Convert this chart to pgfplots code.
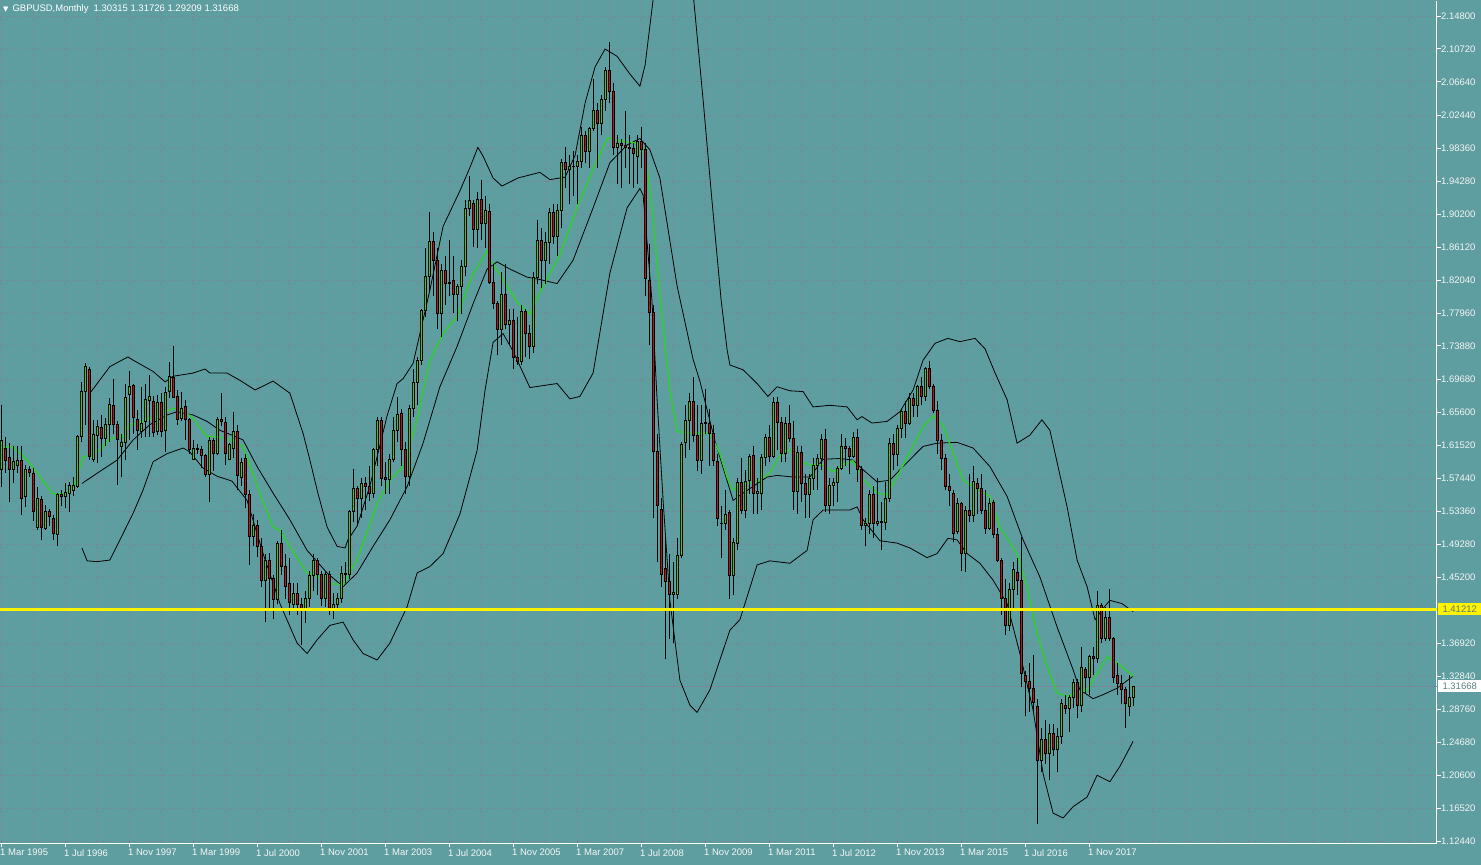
\documentclass[border=0pt]{standalone}
\usepackage{pgfplots}
\usepackage{pgfplotstable}
\pgfplotsset{compat=1.18}
\usepackage{fontspec}
\setmainfont{Liberation Sans}
\newfontfamily\symfont{DejaVu Sans}

\definecolor{bg}{RGB}{95,158,160}
\definecolor{gridc}{RGB}{119,136,153}
\definecolor{bullc}{RGB}{0,235,0}
\definecolor{bearc}{RGB}{235,0,0}
\definecolor{ma}{RGB}{50,205,50}
\definecolor{boxtext}{RGB}{90,125,125}

% monthly candles, i = months since Mar 1995
\pgfplotstableread{
i o h l c
0 1.585 1.665 1.564 1.622
1 1.612 1.626 1.581 1.597
2 1.600 1.618 1.545 1.585
3 1.585 1.614 1.568 1.596
4 1.591 1.614 1.581 1.597
5 1.597 1.614 1.529 1.550
6 1.552 1.591 1.539 1.586
7 1.586 1.590 1.576 1.582
8 1.581 1.587 1.521 1.533
9 1.514 1.564 1.510 1.550
10 1.548 1.552 1.498 1.514
11 1.512 1.541 1.510 1.533
12 1.533 1.536 1.515 1.527
13 1.525 1.529 1.498 1.506
14 1.505 1.556 1.490 1.554
15 1.554 1.560 1.540 1.552
16 1.552 1.568 1.537 1.557
17 1.556 1.570 1.533 1.565
18 1.560 1.576 1.553 1.565
19 1.564 1.628 1.562 1.626
20 1.626 1.694 1.620 1.682
21 1.682 1.717 1.640 1.713
22 1.709 1.713 1.597 1.601
23 1.598 1.647 1.595 1.629
24 1.628 1.647 1.593 1.639
25 1.638 1.653 1.601 1.624
26 1.624 1.649 1.614 1.641
27 1.641 1.674 1.620 1.666
28 1.665 1.698 1.630 1.641
29 1.641 1.645 1.566 1.623
30 1.614 1.630 1.576 1.619
31 1.619 1.692 1.597 1.675
32 1.678 1.707 1.622 1.689
33 1.690 1.692 1.630 1.650
34 1.648 1.659 1.610 1.634
35 1.632 1.688 1.625 1.643
36 1.645 1.692 1.626 1.672
37 1.671 1.703 1.626 1.676
38 1.670 1.676 1.626 1.631
39 1.633 1.678 1.628 1.668
40 1.668 1.680 1.626 1.632
41 1.634 1.688 1.607 1.681
42 1.682 1.719 1.674 1.701
43 1.700 1.738 1.674 1.675
44 1.676 1.684 1.641 1.648
45 1.649 1.682 1.645 1.661
46 1.664 1.672 1.622 1.647
47 1.647 1.649 1.605 1.610
48 1.598 1.622 1.597 1.612
49 1.611 1.617 1.605 1.610
50 1.610 1.614 1.587 1.603
51 1.603 1.605 1.576 1.579
52 1.579 1.626 1.545 1.622
53 1.621 1.624 1.583 1.605
54 1.605 1.651 1.603 1.648
55 1.648 1.680 1.639 1.645
56 1.644 1.651 1.591 1.605
57 1.598 1.618 1.597 1.616
58 1.612 1.657 1.600 1.632
59 1.632 1.640 1.560 1.578
60 1.576 1.600 1.565 1.594
61 1.599 1.605 1.537 1.554
62 1.554 1.560 1.467 1.502
63 1.502 1.530 1.490 1.516
64 1.516 1.523 1.477 1.490
65 1.490 1.500 1.440 1.448
66 1.448 1.480 1.396 1.472
67 1.472 1.482 1.410 1.450
68 1.450 1.455 1.400 1.424
69 1.424 1.497 1.418 1.494
70 1.494 1.510 1.455 1.465
71 1.465 1.480 1.425 1.440
72 1.444 1.475 1.405 1.420
73 1.418 1.445 1.412 1.432
74 1.432 1.445 1.405 1.418
75 1.418 1.426 1.368 1.413
76 1.413 1.435 1.395 1.425
77 1.425 1.460 1.415 1.454
78 1.454 1.480 1.435 1.473
79 1.473 1.475 1.430 1.455
80 1.455 1.460 1.416 1.425
81 1.425 1.460 1.415 1.455
82 1.455 1.460 1.405 1.411
83 1.411 1.432 1.400 1.418
84 1.418 1.432 1.410 1.425
85 1.425 1.465 1.420 1.457
86 1.457 1.470 1.445 1.455
87 1.455 1.535 1.450 1.533
88 1.533 1.586 1.520 1.562
89 1.562 1.565 1.515 1.550
90 1.550 1.575 1.525 1.568
91 1.568 1.576 1.535 1.564
92 1.564 1.590 1.546 1.556
93 1.556 1.612 1.550 1.610
94 1.610 1.650 1.590 1.646
95 1.646 1.650 1.565 1.574
96 1.576 1.595 1.555 1.573
97 1.573 1.605 1.555 1.598
98 1.598 1.650 1.595 1.634
99 1.634 1.675 1.620 1.654
100 1.655 1.660 1.590 1.610
101 1.610 1.620 1.555 1.577
102 1.577 1.665 1.565 1.661
103 1.661 1.710 1.650 1.694
104 1.694 1.725 1.665 1.721
105 1.721 1.785 1.715 1.783
106 1.783 1.860 1.775 1.825
107 1.825 1.905 1.805 1.868
108 1.868 1.880 1.800 1.845
109 1.845 1.860 1.760 1.779
110 1.779 1.840 1.750 1.832
111 1.832 1.850 1.790 1.816
112 1.816 1.870 1.800 1.818
113 1.820 1.850 1.780 1.802
114 1.802 1.815 1.770 1.812
115 1.812 1.845 1.778 1.837
116 1.837 1.920 1.825 1.909
117 1.909 1.950 1.900 1.919
118 1.915 1.920 1.862 1.883
119 1.883 1.930 1.860 1.920
120 1.920 1.945 1.870 1.891
121 1.891 1.925 1.860 1.907
122 1.906 1.915 1.815 1.818
123 1.818 1.840 1.785 1.791
124 1.791 1.795 1.727 1.759
125 1.759 1.830 1.740 1.802
126 1.802 1.840 1.760 1.765
127 1.765 1.785 1.740 1.770
128 1.770 1.785 1.710 1.725
129 1.725 1.775 1.715 1.720
130 1.720 1.790 1.715 1.781
131 1.781 1.785 1.725 1.754
132 1.754 1.765 1.722 1.738
133 1.738 1.830 1.730 1.824
134 1.824 1.895 1.815 1.869
135 1.869 1.885 1.810 1.845
136 1.845 1.880 1.815 1.867
137 1.867 1.910 1.840 1.904
138 1.904 1.915 1.865 1.875
139 1.875 1.915 1.850 1.907
140 1.907 1.970 1.885 1.966
141 1.966 1.985 1.935 1.958
142 1.958 1.975 1.915 1.962
143 1.962 1.980 1.925 1.961
144 1.961 1.975 1.915 1.968
145 1.968 2.010 1.960 2.000
146 2.000 2.005 1.965 1.980
147 1.980 2.010 1.960 2.008
148 2.008 2.070 2.005 2.031
149 2.031 2.040 1.960 2.015
150 2.015 2.050 2.000 2.045
151 2.045 2.085 2.030 2.080
152 2.080 2.116 2.040 2.055
153 2.055 2.065 1.975 1.985
154 1.985 2.000 1.940 1.990
155 1.990 1.995 1.935 1.988
156 1.988 2.030 1.960 1.985
157 1.985 2.000 1.940 1.984
158 1.984 1.990 1.935 1.978
159 1.974 2.000 1.940 1.992
160 1.992 2.010 1.960 1.983
161 1.983 1.990 1.800 1.823
162 1.820 1.865 1.740 1.780
163 1.780 1.790 1.525 1.608
164 1.608 1.630 1.470 1.541
165 1.536 1.550 1.440 1.455
166 1.463 1.505 1.350 1.447
167 1.447 1.480 1.375 1.431
168 1.430 1.470 1.370 1.433
169 1.431 1.500 1.425 1.479
170 1.479 1.620 1.475 1.617
171 1.619 1.665 1.600 1.646
172 1.646 1.680 1.610 1.670
173 1.670 1.700 1.620 1.628
174 1.628 1.665 1.584 1.597
175 1.597 1.665 1.580 1.642
176 1.642 1.685 1.630 1.644
177 1.643 1.660 1.590 1.630
178 1.630 1.640 1.590 1.597
179 1.595 1.605 1.515 1.525
180 1.518 1.540 1.475 1.519
181 1.518 1.560 1.510 1.530
182 1.532 1.535 1.425 1.454
183 1.454 1.500 1.430 1.495
184 1.494 1.575 1.485 1.569
185 1.569 1.600 1.530 1.535
186 1.535 1.585 1.525 1.571
187 1.572 1.605 1.555 1.601
188 1.603 1.615 1.530 1.556
189 1.556 1.575 1.530 1.558
190 1.556 1.605 1.535 1.600
191 1.600 1.630 1.590 1.625
192 1.625 1.640 1.595 1.602
193 1.602 1.675 1.600 1.669
194 1.669 1.675 1.610 1.644
195 1.644 1.650 1.595 1.605
196 1.605 1.650 1.595 1.642
197 1.642 1.665 1.620 1.624
198 1.624 1.645 1.535 1.558
199 1.558 1.615 1.530 1.607
200 1.607 1.615 1.545 1.568
201 1.568 1.580 1.525 1.554
202 1.554 1.580 1.525 1.574
203 1.574 1.600 1.560 1.591
204 1.591 1.605 1.560 1.599
205 1.599 1.630 1.585 1.623
206 1.623 1.635 1.533 1.541
207 1.541 1.575 1.530 1.566
208 1.566 1.575 1.540 1.569
209 1.569 1.590 1.545 1.587
210 1.587 1.630 1.585 1.614
211 1.614 1.625 1.590 1.611
212 1.611 1.615 1.580 1.602
213 1.602 1.632 1.600 1.625
214 1.625 1.635 1.570 1.586
215 1.586 1.590 1.510 1.516
216 1.516 1.525 1.490 1.519
217 1.519 1.560 1.505 1.554
218 1.554 1.565 1.500 1.519
219 1.519 1.575 1.515 1.521
220 1.521 1.545 1.485 1.520
221 1.520 1.570 1.510 1.550
222 1.550 1.625 1.545 1.618
223 1.618 1.630 1.585 1.604
224 1.604 1.640 1.590 1.636
225 1.636 1.660 1.625 1.658
226 1.658 1.670 1.625 1.643
227 1.643 1.680 1.640 1.674
228 1.674 1.680 1.650 1.665
229 1.665 1.690 1.650 1.688
230 1.688 1.700 1.665 1.676
231 1.676 1.712 1.670 1.711
232 1.711 1.720 1.685 1.688
233 1.688 1.692 1.655 1.659
234 1.659 1.670 1.605 1.622
235 1.622 1.630 1.585 1.599
236 1.599 1.605 1.560 1.564
237 1.564 1.580 1.540 1.559
238 1.556 1.560 1.495 1.506
239 1.508 1.550 1.505 1.543
240 1.543 1.545 1.460 1.481
241 1.481 1.540 1.458 1.535
242 1.535 1.580 1.520 1.529
243 1.529 1.590 1.520 1.571
244 1.568 1.575 1.530 1.562
245 1.562 1.580 1.530 1.534
246 1.534 1.560 1.505 1.512
247 1.512 1.550 1.510 1.543
248 1.544 1.548 1.500 1.505
249 1.505 1.513 1.470 1.473
250 1.473 1.475 1.405 1.426
251 1.425 1.450 1.380 1.392
252 1.392 1.445 1.385 1.436
253 1.436 1.470 1.410 1.461
254 1.458 1.475 1.430 1.448
255 1.448 1.502 1.315 1.332
256 1.330 1.335 1.280 1.323
257 1.322 1.345 1.285 1.314
258 1.314 1.355 1.285 1.296
259 1.292 1.300 1.145 1.225
260 1.225 1.265 1.210 1.250
261 1.250 1.275 1.220 1.233
262 1.233 1.270 1.200 1.258
263 1.258 1.270 1.230 1.238
264 1.238 1.265 1.210 1.254
265 1.254 1.300 1.245 1.295
266 1.293 1.305 1.282 1.289
267 1.289 1.305 1.260 1.303
268 1.303 1.325 1.290 1.321
269 1.321 1.325 1.277 1.293
270 1.293 1.365 1.285 1.340
271 1.337 1.340 1.307 1.328
272 1.328 1.355 1.305 1.353
273 1.353 1.365 1.330 1.351
274 1.351 1.434 1.345 1.417
275 1.417 1.420 1.370 1.376
276 1.376 1.415 1.372 1.402
277 1.402 1.437 1.372 1.376
278 1.376 1.378 1.320 1.328
279 1.330 1.345 1.305 1.320
280 1.320 1.330 1.295 1.313
281 1.313 1.315 1.265 1.295
282 1.291 1.330 1.280 1.303
283 1.30315 1.31726 1.29209 1.31668
}\candles

\pgfplotsset{
  chartbox/.style={at={(0pt,22pt)}, anchor=south west,
    width=1437pt, height=842pt, scale only axis,
    xmin=-0.375, xmax=358.875, ymin=1.12195, ymax=2.16661},
}

\begin{document}
\begin{tikzpicture}
\useasboundingbox (0,0) rectangle (1481pt,865pt);
\fill[bg] (0,0) rectangle (1481pt,865pt);
\begin{axis}[chartbox,
  axis x line*=bottom, axis y line*=right,
  axis line style={white, line width=1pt, -},
  tick align=outside, major tick length=4pt, minor tick length=0pt,
  tick style={white, line width=0.8pt},
  xtick={0,16,...,272},
  xticklabels={1 Mar 1995,1 Jul 1996,1 Nov 1997,1 Mar 1999,1 Jul 2000,1 Nov 2001,1 Mar 2003,1 Jul 2004,1 Nov 2005,1 Mar 2007,1 Jul 2008,1 Nov 2009,1 Mar 2011,1 Jul 2012,1 Nov 2013,1 Mar 2015,1 Jul 2016,1 Nov 2017},
  minor xtick={0,8,...,352},
  xmajorgrids=false, xminorgrids=true,
  ytick={2.148,2.1072,2.0664,2.0244,1.9836,1.9428,1.902,1.8612,1.8204,1.7796,1.7388,1.6968,1.656,1.6152,1.5744,1.5336,1.4928,1.452,1.3692,1.3284,1.2876,1.2468,1.206,1.1652,1.1244},
  yticklabels={2.14800,2.10720,2.06640,2.02440,1.98360,1.94280,1.90200,1.86120,1.82040,1.77960,1.73880,1.69680,1.65600,1.61520,1.57440,1.53360,1.49280,1.45200,1.36920,1.32840,1.28760,1.24680,1.20600,1.16520,1.12440},
  ymajorgrids=true,
  grid style={gridc, line width=0.7pt, dash pattern=on 3pt off 3pt},
  minor grid style={gridc, line width=0.7pt, dash pattern=on 3pt off 3pt},
  ticklabel style={font=\fontsize{9.5}{11}\selectfont, text=white!92!gray},
  xticklabel style={anchor=north west, inner sep=0pt, xshift=-1.5pt, yshift=-2pt},
  yticklabel style={anchor=west, inner sep=0pt, xshift=0pt},
]
% current price line
\addplot[gridc, line width=0.8pt] coordinates {(-1,1.31668) (360,1.31668)};

% Bollinger upper
\addplot[black, line width=0.8pt] coordinates {
(22.1,1.680) (27.1,1.713) (31.6,1.725) (32.9,1.721) (37.9,1.707) (40.9,1.694) (42.9,1.701) (47.9,1.705) (50.9,1.710) (52.1,1.705) (56.4,1.705) (59.6,1.696) (63.4,1.684) (67.9,1.695) (72.1,1.680) (75.4,1.630) (77.1,1.597) (79.1,1.556) (81.4,1.514) (83.9,1.490) (85.9,1.488) (86.6,1.498) (88.9,1.515) (92.1,1.565) (94.6,1.615) (96.4,1.652) (98.9,1.692) (100.4,1.698) (102.9,1.717) (107.1,1.808) (110.4,1.887) (114.6,1.931) (117.1,1.960) (119.1,1.985) (120.4,1.974) (122.9,1.947) (125.1,1.937) (129.1,1.947) (134.6,1.954) (137.1,1.945) (140.9,1.948) (143.4,1.975) (145.9,2.040) (148.4,2.085) (150.9,2.107) (153.9,2.098) (157.1,2.076) (159.6,2.061) (160.9,2.087) (162.1,2.136) (162.9,2.168) (165,2.40) (171,2.40) (173.1,2.166) (175.4,2.044) (177.6,1.920) (179.9,1.796) (181.4,1.734) (182.1,1.715) (185.4,1.709) (188.9,1.692) (191.6,1.676) (193.9,1.688) (197.1,1.683) (200.4,1.682) (202.9,1.663) (207.1,1.665) (211.4,1.663) (213.9,1.647) (215.1,1.651) (217.6,1.643) (221.4,1.645) (224.6,1.657) (227.9,1.684) (230.4,1.721) (233.4,1.742) (236.6,1.748) (239.6,1.744) (243.4,1.748) (245.9,1.735) (248.4,1.705) (251.4,1.672) (253.9,1.618) (257.1,1.628) (260.1,1.647) (262.1,1.634) (266.4,1.539) (268.9,1.473) (271.4,1.440) (273.4,1.399) (275.4,1.413) (277.1,1.423) (280.1,1.419) (282.9,1.409)};
% Bollinger middle
\addplot[black, line width=0.8pt] coordinates {
(20.1,1.568) (24.6,1.583) (28.9,1.597) (32.9,1.622) (37.1,1.641) (41.4,1.653) (43.9,1.657) (47.9,1.653) (51.4,1.645) (54.6,1.634) (57.6,1.628) (60.4,1.622) (63.9,1.589) (67.9,1.556) (72.1,1.523) (76.4,1.485) (81.4,1.457) (85.4,1.440) (88.9,1.457) (92.9,1.490) (97.1,1.523) (101.4,1.564) (105.4,1.618) (109.6,1.688) (113.9,1.738) (117.9,1.791) (121.4,1.834) (123.9,1.843) (127.1,1.834) (131.4,1.824) (134.6,1.821) (138.9,1.816) (142.9,1.845) (147.9,1.910) (152.1,1.966) (156.4,1.988) (159.6,1.996) (162.1,1.982) (164.6,1.947) (168.9,1.813) (172.9,1.722) (174.6,1.695) (178.4,1.620) (182.9,1.547) (185.4,1.556) (191.4,1.576) (193.9,1.578) (197.9,1.576) (202.1,1.576) (205.4,1.598) (209.6,1.599) (212.9,1.597) (215.4,1.585) (218.9,1.570) (222.1,1.572) (225.4,1.589) (230.4,1.614) (233.9,1.618) (238.9,1.619) (242.9,1.612) (247.1,1.589) (251.4,1.552) (255.4,1.498) (259.6,1.452) (263.9,1.390) (267.9,1.337) (269.6,1.312) (272.9,1.301) (275.4,1.306) (278.9,1.314) (282.9,1.329)};
% Bollinger lower
\addplot[black, line width=0.8pt] coordinates {
(20.1,1.488) (21.4,1.472) (23.9,1.471) (27.1,1.473) (29.6,1.498) (32.9,1.531) (35.4,1.560) (37.9,1.595) (41.4,1.605) (45.4,1.612) (47.1,1.607) (50.4,1.587) (53.9,1.577) (57.6,1.571) (61.4,1.547) (65.4,1.481) (69.6,1.419) (73.9,1.370) (76.4,1.357) (78.9,1.374) (82.1,1.392) (85.4,1.396) (87.9,1.374) (90.4,1.357) (93.9,1.349) (97.1,1.370) (101.4,1.415) (103.9,1.457) (107.1,1.465) (110.4,1.481) (114.6,1.530) (118.9,1.609) (120.9,1.684) (122.9,1.743) (125.4,1.754) (127.9,1.732) (132.1,1.687) (138.9,1.692) (142.1,1.673) (144.6,1.676) (147.9,1.705) (152.1,1.829) (156.4,1.910) (159.6,1.934) (160.4,1.926) (161.4,1.867) (162.6,1.796) (163.9,1.672) (165.4,1.547) (167.1,1.423) (169.6,1.324) (172.1,1.293) (173.9,1.284) (177.1,1.312) (179.6,1.349) (182.1,1.386) (184.6,1.399) (188.9,1.467) (192.1,1.472) (197.1,1.469) (201.4,1.485) (202.9,1.523) (205.4,1.535) (212.1,1.535) (213.9,1.539) (215.4,1.523) (219.6,1.497) (223.9,1.494) (227.1,1.488) (231.4,1.476) (233.9,1.481) (236.6,1.500) (238.9,1.498) (241.4,1.481) (244.6,1.469) (247.9,1.448) (251.4,1.419) (254.6,1.357) (257.9,1.287) (260.4,1.208) (262.9,1.159) (265.4,1.153) (267.9,1.167) (271.4,1.179) (273.9,1.206) (277.1,1.198) (279.6,1.217) (282.9,1.248)};
% moving average
\addplot[ma, line width=1.5pt] coordinates {
(-0.4,1.614) (2.9,1.613) (6.4,1.597) (8.9,1.581) (12.9,1.555) (15.4,1.555) (17.9,1.560) (20.4,1.601) (22.1,1.603) (24.6,1.610) (27.1,1.624) (30.4,1.626) (32.1,1.641) (35.4,1.645) (38.9,1.653) (42.9,1.661) (45.4,1.659) (47.9,1.649) (51.4,1.626) (54.6,1.626) (57.6,1.621) (60.4,1.614) (64.6,1.556) (67.9,1.514) (69.6,1.510) (72.1,1.490) (76.4,1.457) (78.9,1.453) (82.1,1.444) (85.4,1.442) (88.9,1.473) (93.9,1.543) (97.1,1.572) (100.4,1.589) (103.9,1.647) (107.1,1.721) (110.4,1.754) (113.9,1.775) (117.9,1.828) (121.4,1.857) (122.9,1.840) (126.4,1.813) (129.1,1.792) (132.1,1.778) (135.4,1.813) (139.6,1.851) (143.9,1.910) (147.9,1.958) (151.6,1.997) (154.6,1.993) (158.9,1.990) (160.4,1.985) (161.6,1.953) (162.9,1.899) (164.6,1.802) (167.1,1.684) (168.9,1.633) (171.4,1.630) (174.6,1.631) (177.1,1.630) (179.6,1.605) (181.4,1.576) (182.9,1.560) (185.4,1.568) (188.9,1.570) (192.1,1.581) (194.6,1.603) (197.1,1.610) (198.9,1.597) (202.1,1.591) (205.4,1.591) (207.9,1.583) (210.4,1.591) (212.9,1.596) (215.4,1.574) (218.9,1.556) (221.4,1.554) (223.9,1.576) (227.1,1.607) (230.4,1.638) (232.9,1.652) (235.4,1.640) (237.1,1.617) (240.4,1.572) (242.9,1.564) (247.1,1.552) (249.6,1.514) (253.9,1.481) (256.4,1.440) (258.9,1.382) (261.4,1.341) (263.9,1.308) (266.4,1.304) (268.9,1.308) (271.4,1.312) (273.9,1.332) (276.4,1.353) (279.6,1.343) (282.9,1.329)};

% wicks
\addplot[only marks, mark options={draw opacity=0, fill opacity=0},
  error bars/.cd, y dir=plus, y explicit, error mark=none,
  error bar style={line width=1pt, draw=black}]
  table[x=i, y=l, y error plus expr={\thisrow{h}-\thisrow{l}}] {\candles};

\coordinate (lvl) at (axis cs:358.875,1.41212);
\coordinate (cur) at (axis cs:358.875,1.31668);
\end{axis}

% candle bodies: stacked bars on an overlay axis
\begin{axis}[chartbox, hide axis, ybar stacked, bar width=2.4pt]
\addplot[draw=none, fill=none] table[x=i, y expr={min(\thisrow{o},\thisrow{c})}] {\candles};
\addplot[draw=black, fill=bullc, line width=0.8pt] table[x=i, y expr={max(\thisrow{c}-\thisrow{o},0)}] {\candles};
\addplot[draw=black, fill=bearc, line width=0.8pt] table[x=i, y expr={max(\thisrow{o}-\thisrow{c},0)}] {\candles};
\end{axis}

% level line on top
\begin{axis}[chartbox, hide axis]
\addplot[yellow, line width=3pt] coordinates {(-1,1.41212) (360,1.41212)};
\end{axis}

\node[fill=yellow, text=boxtext, anchor=west, inner sep=0pt, minimum width=43pt, minimum height=12pt,
  font=\fontsize{9.5}{11}\selectfont] at ([xshift=1pt]lvl) {1.41212};
\node[fill=white, text=boxtext, anchor=west, inner sep=0pt, minimum width=43pt, minimum height=12pt,
  font=\fontsize{9.5}{11}\selectfont] at ([xshift=1pt]cur) {1.31668};
\node[anchor=west, inner sep=0pt, text=white, font=\fontsize{9.5}{11}\selectfont] at (3pt,856pt)
  {{\symfont\fontsize{7}{7}\selectfont ▼}\hspace{4pt}GBPUSD,Monthly\hspace{5pt}1.30315 1.31726 1.29209 1.31668};
\end{tikzpicture}
\end{document}
